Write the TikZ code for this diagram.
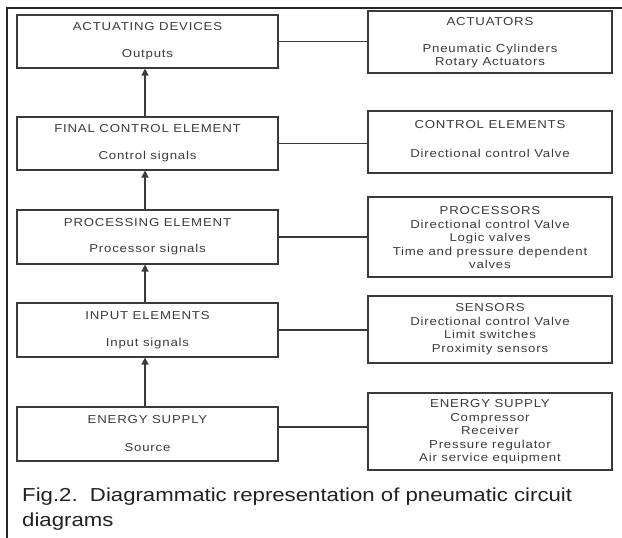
\documentclass[tikz,border=0pt]{standalone}
\usepackage{fontspec}
\setmainfont{Liberation Sans}
\newfontfamily\boxfont[FakeStretch=1.15,LetterSpace=7]{Liberation Sans}
\newfontfamily\capfont[FakeStretch=1.18]{Liberation Sans}
\usetikzlibrary{arrows.meta}
\definecolor{ink}{HTML}{3A3A3A}
\definecolor{capink}{HTML}{202020}
\tikzset{
  lbox/.style={draw=ink, line width=1.1pt, inner sep=0pt, minimum width=261pt, minimum height=53pt},
  rbox/.style={draw=ink, line width=1.1pt, inner sep=0pt, minimum width=244pt},
  txt/.style={font={\boxfont\fontsize{11.5}{13.5}\selectfont}, text=ink, align=center, inner sep=0pt},
  conn/.style={draw=ink, line width=1.1pt},
  arr/.style={draw=ink, line width=1.4pt, -{Triangle[length=7pt,width=7pt]}},
  framel/.style={draw=black!85, line width=2pt},
  captxt/.style={font={\capfont\fontsize{18.8}{25}\selectfont}, text=capink, inner sep=0pt, anchor=base west}
}
\begin{document}
\begin{tikzpicture}[x=1pt,y=-1pt]
\useasboundingbox (0,0) rectangle (622,538);
% frame
\draw[framel] (7,538) -- (7,8) -- (622,8);
% left boxes
\node[lbox] (L1) at (147.5,41.5) {};
\node[lbox] (L2) at (147.5,143.5) {};
\node[lbox, minimum height=54pt] (L3) at (147.5,237) {};
\node[lbox, minimum height=54pt] (L4) at (147.5,330) {};
\node[lbox, minimum height=54pt] (L5) at (147.5,434) {};
% right boxes
\node[rbox, minimum height=62pt] (R1) at (490,42) {};
\node[rbox, minimum height=62pt] (R2) at (490,142) {};
\node[rbox, minimum height=80pt] (R3) at (490,237) {};
\node[rbox, minimum height=67pt] (R4) at (490,329.5) {};
\node[rbox, minimum height=77pt] (R5) at (490,431.5) {};
% left texts
\node[txt] (L1a) at (147.5,27) {ACTUATING DEVICES};
\node[txt] (L1b) at (147.5,55) {Outputs};
\node[txt] (L2a) at (147.5,129) {FINAL CONTROL ELEMENT};
\node[txt] (L2b) at (147.5,157) {Control signals};
\node[txt] (L3a) at (147.5,223) {PROCESSING ELEMENT};
\node[txt] (L3b) at (147.5,250) {Processor signals};
\node[txt] (L4a) at (147.5,316) {INPUT ELEMENTS};
\node[txt] (L4b) at (147.5,344) {Input signals};
\node[txt] (L5a) at (147.5,420) {ENERGY SUPPLY};
\node[txt] (L5b) at (147.5,448) {Source};
% right texts
\node[txt] (R1a) at (490,22) {ACTUATORS};
\node[txt] (R1b) at (490,56) {Pneumatic Cylinders\\Rotary Actuators};
\node[txt] (R2a) at (490,125) {CONTROL ELEMENTS};
\node[txt] (R2b) at (490,153) {Directional control Valve};
\node[txt] (R3a) at (490,238) {PROCESSORS\\Directional control Valve\\Logic valves\\Time and pressure dependent\\valves};
\node[txt] (R4a) at (490,329) {SENSORS\\Directional control Valve\\Limit switches\\Proximity sensors};
\node[txt] (R5a) at (490,432) {ENERGY SUPPLY\\Compressor\\Receiver\\Pressure regulator\\Air service equipment};
% connectors
\draw[conn] (L1.east) -- (L1.east -| R1.west);
\draw[conn] (L2.east) -- (L2.east -| R2.west);
\draw[conn] (L3.east) -- (L3.east -| R3.west);
\draw[conn] (L4.east) -- (L4.east -| R4.west);
\draw[conn] ([yshift=7pt]L5.east) -- ([yshift=7pt]L5.east -| R5.west);
% arrows
\draw[arr] ([xshift=-2.5pt]L2.north) -- ([xshift=-2.5pt]L1.south);
\draw[arr] ([xshift=-2.5pt]L3.north) -- ([xshift=-2.5pt]L2.south);
\draw[arr] ([xshift=-2.5pt]L4.north) -- ([xshift=-2.5pt]L3.south);
\draw[arr] ([xshift=-2.5pt]L5.north) -- ([xshift=-2.5pt]L4.south);
% caption
\node[captxt] (C1) at (22,501) {Fig.2.\ \ Diagrammatic representation of pneumatic circuit};
\node[captxt] (C2) at (22,526) {diagrams};
\end{tikzpicture}
\end{document}
